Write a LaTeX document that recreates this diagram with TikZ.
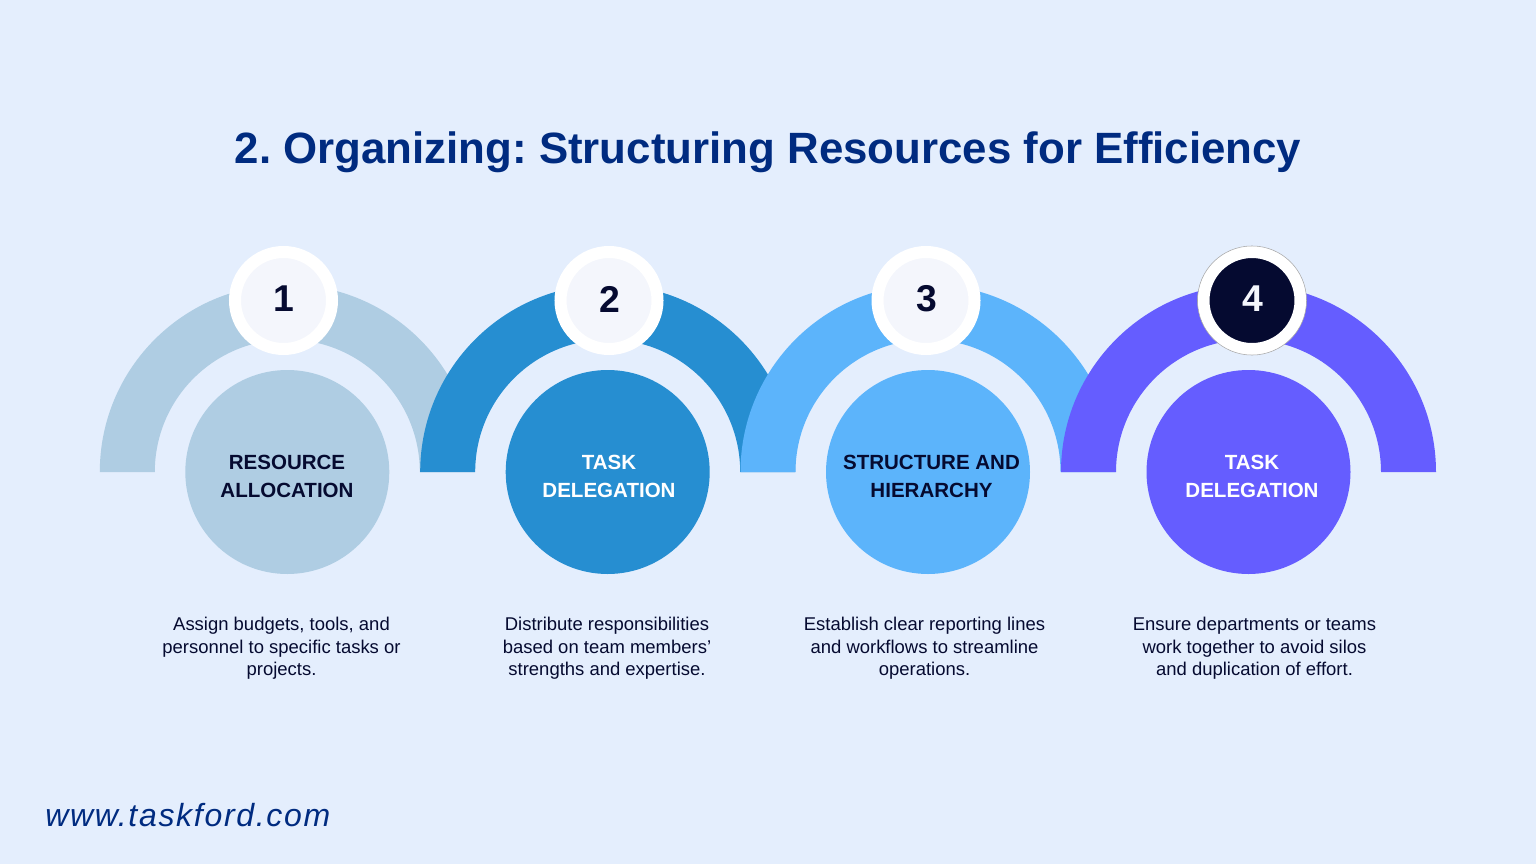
\documentclass[tikz,border=0pt]{standalone}
\usepackage{fontspec}
\setmainfont{Liberation Sans}
\newfontfamily\urlfont[LetterSpace=5.3]{Liberation Sans}
\frenchspacing
\definecolor{bgc}{HTML}{E4EEFD}
\definecolor{cA}{HTML}{AFCDE3}
\definecolor{cB}{HTML}{268ED1}
\definecolor{cC}{HTML}{5CB4FB}
\definecolor{cD}{HTML}{655DFF}
\definecolor{ink}{HTML}{050A30}
\definecolor{navy}{HTML}{002B80}
\definecolor{pale}{HTML}{F4F6FC}
\tikzset{
 x=0.75pt,y=-0.75pt,
 ttl/.style={inner sep=0,text=navy,font=\fontsize{32.87}{40}\selectfont\bfseries},
 head/.style={inner sep=0,align=center,font=\fontsize{15.4}{21}\selectfont\bfseries},
 body/.style={inner sep=0,align=center,text=ink,font=\fontsize{13.85}{16.9}\selectfont},
 num/.style={inner sep=0,font=\fontsize{28}{32}\selectfont\bfseries},
 disc/.style={circle,inner sep=0,minimum size=153pt,fill=#1},
 badge/.style={circle,inner sep=0,minimum size=72.75pt,fill=#1,line width=9pt,draw=white},
}
\newcommand{\halfring}[2]{\fill[#2] (#1-187.5,472) arc[start angle=180,end angle=0,radius=140.625pt] -- (#1+132.5,472) arc[start angle=0,end angle=180,radius=99.375pt] -- cycle;}
\begin{document}
\begin{tikzpicture}
\useasboundingbox (0,0) rectangle (1536,864);
\fill[bgc] (0,0) rectangle (1536,864);
\node[ttl] (title) at (768,152) {2. Organizing: Structuring Resources for Efficiency};
\halfring{287.3}{cA}
\halfring{607.7}{cB}
\halfring{928}{cC}
\halfring{1248.5}{cD}
\node[disc=cA] (d1) at (287.3,472) {};
\node[disc=cB] (d2) at (607.7,472) {};
\node[disc=cC] (d3) at (928,472) {};
\node[disc=cD] (d4) at (1248.5,472) {};
\node[head,text=ink] (h1) at (287,476.5) {RESOURCE\\ALLOCATION};
\node[head,text=white] (h2) at (609,476.5) {TASK\\DELEGATION};
\node[head,text=ink] (h3) at (931.5,476.5) {STRUCTURE AND\\HIERARCHY};
\node[head,text=white] (h4) at (1252,476.5) {TASK\\DELEGATION};
\node[badge=pale] (b1) at (283.5,300.5) {};
\node[badge=pale] (b2) at (609,300.5) {};
\node[badge=pale] (b3) at (926,300.5) {};
\node[badge=ink] (b4) at (1252,300.5) {};
\draw[draw=black!35,line width=0.4pt] (b4) circle[radius=40.9pt];
\node[num,text=ink] at (283.5,299) {1};
\node[num,text=ink] at (609.5,299) {2};
\node[num,text=ink] at (926.5,299) {3};
\node[num,text=pale] at (1252.5,299) {4};
\node[body] (t1) at (281.5,648.5) {Assign budgets, tools, and\\personnel to specific tasks or\\projects.};
\node[body] (t2) at (607,648.5) {Distribute responsibilities\\based on team members’\\strengths and expertise.};
\node[body] (t3) at (924.5,648.5) {Establish clear reporting lines\\and workflows to streamline\\operations.};
\node[body] (t4) at (1254.5,648.5) {Ensure departments or teams\\work together to avoid silos\\and duplication of effort.};
\node[inner sep=0,anchor=west,text=navy,font=\fontsize{24}{28}\selectfont\urlfont\itshape] (url) at (45,815) {www.taskford.com};
\end{tikzpicture}
\end{document}
